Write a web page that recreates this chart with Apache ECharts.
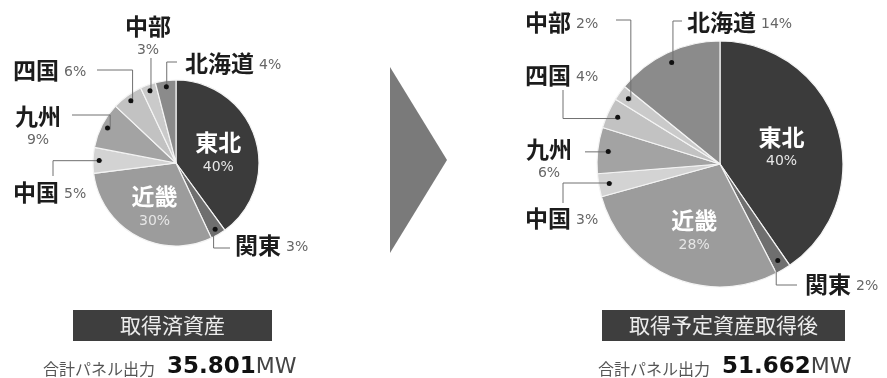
<!DOCTYPE html>
<html><head><meta charset="utf-8">
<script src="https://cdn.jsdelivr.net/npm/echarts@6/dist/echarts.min.js"></script>
<style>html,body{margin:0;padding:0;background:#fff}#c{width:887px;height:378px}</style>
</head><body><div id="c"></div>
<script>
// ---- data ----
const regions = ['東北','関東','近畿','中国','九州','四国','中部','北海道'];
const acquiredShares = [40,3,30,5,9,6,3,4];
const plannedShares  = [40,2,28,3,6,4,2,14];
const boxTitles = ['取得済資産','取得予定資産取得後'];
const totalLabel = '合計パネル出力';
const totalOutputs = ['35.801','51.662'];
const unit = 'MW';

// ---- styles / layout ----
const sliceColors = ['#3b3b3b','#6f6f6f','#9c9c9c','#d3d3d3','#a3a3a3','#c2c2c2','#cacaca','#8b8b8b'];
const insideIdx = [0,2];
const CJK = 'Noto Sans CJK JP';
const LAT = 'DejaVu Sans';

const pieLayouts = [
  { center:[176,163], r:83, insideDy:{0:5,2:6}, labels:{
      1:{x:235,y:245,align:'left',va:'middle',line:'VH',end:[230,248]},
      3:{x:13,y:192,align:'left',va:'middle',line:'HV',end:[53,176]},
      4:{x:38,y:103,align:'center',va:'top',line:'VH',end:[72,115],stack:true},
      5:{x:13,y:70,align:'left',va:'middle',line:'VH',end:[97,70]},
      6:{x:148,y:13,align:'center',va:'top',line:'V',end:[0,58],stack:true},
      7:{x:185,y:63,align:'left',va:'middle',line:'VH',end:[177,62]}
  }},
  { center:[720,164], r:123, insideDy:{0:4,2:9}, labels:{
      1:{x:805,y:284,align:'left',va:'middle',line:'VH',end:[797,285]},
      3:{x:525,y:218,align:'left',va:'middle',line:'HV',end:[563,203]},
      4:{x:549,y:136,align:'center',va:'top',line:'H',end:[585,0],stack:true},
      5:{x:525,y:75,align:'left',va:'middle',line:'HV',end:[563,90]},
      6:{x:525,y:22,align:'left',va:'middle',line:'VH',end:[616,20]},
      7:{x:687,y:22,align:'left',va:'middle',line:'VH',end:[682,21]}
  }}
];
const seriesValues = [acquiredShares, plannedShares];

function dotPos(si, idx){
  const vals = seriesValues[si];
  const total = vals.reduce((a,b)=>a+b,0);
  let cum = 0; for(let i=0;i<idx;i++) cum += vals[i];
  const frac = (cum + vals[idx]/2)/total;
  const a = frac*Math.PI*2;
  const L = pieLayouts[si];
  const rr = L.r*0.89;
  return [L.center[0] + rr*Math.sin(a), L.center[1] - rr*Math.cos(a)];
}
function leaderPoints(si, idx){
  const c = pieLayouts[si].labels[idx];
  const d = dotPos(si, idx);
  if(c.line==='VH') return [d,[d[0],c.end[1]],c.end];
  if(c.line==='HV') return [d,[c.end[0],d[1]],c.end];
  if(c.line==='V') return [d,[d[0],c.end[1]]];
  return [d,[c.end[0],d[1]]];
}

const rich = {
  n:{fontFamily:CJK,fontWeight:'bold',fontSize:23,color:'#1c1c1c',lineHeight:26},
  p:{fontFamily:LAT,fontSize:14,color:'#666',padding:[4,0,0,5],lineHeight:26},
  pb:{fontFamily:LAT,fontSize:14,color:'#666',lineHeight:22},
  w:{fontFamily:CJK,fontWeight:'bold',fontSize:23,color:'#fff',lineHeight:26},
  wp:{fontFamily:LAT,fontSize:14,color:'#e6e6e6',lineHeight:24}
};

function mainSeries(si){
  const L = pieLayouts[si];
  return {
    type:'pie', center:L.center, radius:L.r, startAngle:90, clockwise:true,
    avoidLabelOverlap:false, silent:true,
    itemStyle:{borderColor:'#f4f4f4',borderWidth:1.2},
    label:{show:true,position:'outside',rich:rich,
      formatter:(p)=>{
        if(insideIdx.includes(p.dataIndex)) return '{w|'+p.name+'}\n{wp|'+p.value+'%}';
        const c = L.labels[p.dataIndex];
        return c && c.stack ? '{n|'+p.name+'}\n{pb|'+p.value+'%}' : '{n|'+p.name+'}{p|'+p.value+'%}';
      }},
    labelLine:{show:false},
    labelLayout:function(params){
      const c = L.labels[params.dataIndex];
      if(!c) return {dy: L.insideDy[params.dataIndex] || 0};
      return {x:c.x,y:c.y,align:c.align,verticalAlign:c.va};
    },
    data: regions.map((n,i)=>{
      const d = {name:n,value:seriesValues[si][i],itemStyle:{color:sliceColors[i]}};
      if(insideIdx.includes(i)){ d.label={position:'inside'}; }
      return d;
    })
  };
}
function dotSeries(si){
  const L = pieLayouts[si];
  return {
    type:'pie', center:L.center, radius:[L.r*0.80,L.r*0.98], startAngle:90, silent:true,
    avoidLabelOverlap:false, z:30,
    itemStyle:{color:'rgba(0,0,0,0)',borderWidth:0},
    label:{show:true,position:'inside',formatter:'{d|}',
      rich:{d:{width:5,height:5,borderRadius:3,backgroundColor:'#111'}}},
    labelLine:{show:false},
    data: regions.map((n,i)=>({name:n,value:seriesValues[si][i],
      label:{show:!insideIdx.includes(i)}}))
  };
}

const leaders = [];
[0,1].forEach(si=>{
  Object.keys(pieLayouts[si].labels).forEach(k=>{
    leaders.push({type:'polyline',z:20,silent:true,shape:{points:leaderPoints(si,+k)},
      style:{stroke:'#707070',lineWidth:1,fill:null}});
  });
});

const chart = echarts.init(document.getElementById('c'));
chart.setOption({
  animation:false,
  title:[0,1].map(i=>({
    text:'{b|'+boxTitles[i]+'}', left:[73,602][i], top:310, padding:0,
    textStyle:{fontWeight:'normal',rich:{b:{width:[199,243][i],height:31,lineHeight:31,align:'center',fontWeight:'normal',
      backgroundColor:'#3e3e3e',color:'#ececec',fontSize:21,fontFamily:CJK}}}
  })).concat([0,1].map(i=>({
    text:'{s|'+totalLabel+'}{v|'+totalOutputs[i]+'}{u|'+unit+'}', left:[43,598][i], top:353, padding:0,
    textStyle:{fontWeight:'normal',rich:{
      s:{fontFamily:CJK,fontWeight:'normal',fontSize:16,color:'#555',lineHeight:28,padding:[3,0,0,0]},
      v:{fontFamily:LAT,fontWeight:'bold',fontSize:23,color:'#111',padding:[0,0,0,12],lineHeight:28},
      u:{fontFamily:LAT,fontWeight:'normal',fontSize:22,color:'#444',lineHeight:28}
    }}
  }))),
  graphic:[{type:'polygon',shape:{points:[[390,67],[447,160],[390,253]]},style:{fill:'#7a7a7a'}}].concat(leaders),
  series:[mainSeries(0),mainSeries(1),dotSeries(0),dotSeries(1)]
});
</script></body></html>
